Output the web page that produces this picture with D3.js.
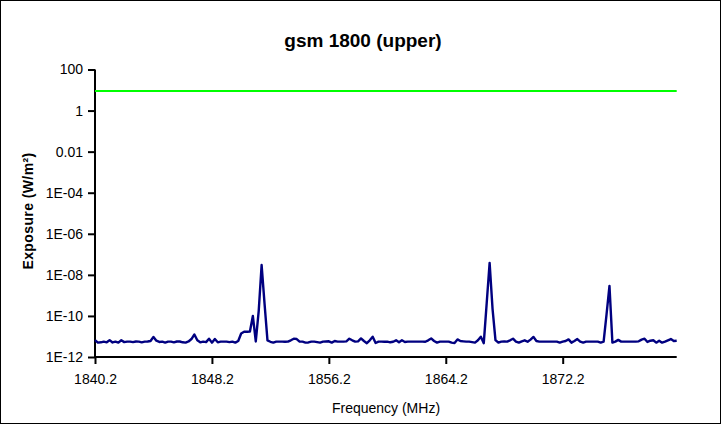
<!DOCTYPE html>
<html>
<head>
<meta charset="utf-8">
<script src="https://cdn.jsdelivr.net/npm/d3@7"></script>
<style>
  html, body { margin: 0; padding: 0; background: #fff; }
  svg { display: block; font-family: "Liberation Sans", Arial, sans-serif; }
</style>
</head>
<body>
<svg id="chart" width="722" height="425"></svg>
<script>
const title = "gsm 1800 (upper)";
const xTitle = "Frequency (MHz)";
const yTitle = "Exposure (W/m²)";

// Frequency sweep (MHz)
const frequencies = [
  1840.2,1840.4,1840.6,1840.8,1841.0,1841.2,1841.4,1841.6,1841.8,1842.0,
  1842.2,1842.4,1842.6,1842.8,1843.0,1843.2,1843.4,1843.6,1843.8,1844.0,
  1844.2,1844.4,1844.6,1844.8,1845.0,1845.2,1845.4,1845.6,1845.8,1846.0,
  1846.2,1846.4,1846.6,1846.8,1847.0,1847.2,1847.4,1847.6,1847.8,1848.0,
  1848.2,1848.4,1848.6,1848.8,1849.0,1849.2,1849.4,1849.6,1849.8,1850.0,
  1850.2,1850.4,1850.6,1850.8,1851.0,1851.2,1851.4,1851.6,1851.8,1852.0,
  1852.2,1852.4,1852.6,1852.8,1853.0,1853.2,1853.4,1853.6,1853.8,1854.0,
  1854.2,1854.4,1854.6,1854.8,1855.0,1855.2,1855.4,1855.6,1855.8,1856.0,
  1856.2,1856.4,1856.6,1856.8,1857.0,1857.2,1857.4,1857.6,1857.8,1858.0,
  1858.2,1858.4,1858.6,1858.8,1859.0,1859.2,1859.4,1859.6,1859.8,1860.0,
  1860.2,1860.4,1860.6,1860.8,1861.0,1861.2,1861.4,1861.6,1861.8,1862.0,
  1862.2,1862.4,1862.6,1862.8,1863.0,1863.2,1863.4,1863.6,1863.8,1864.0,
  1864.2,1864.4,1864.6,1864.8,1865.0,1865.2,1865.4,1865.6,1865.8,1866.0,
  1866.2,1866.4,1866.6,1866.8,1867.0,1867.2,1867.4,1867.6,1867.8,1868.0,
  1868.2,1868.4,1868.6,1868.8,1869.0,1869.2,1869.4,1869.6,1869.8,1870.0,
  1870.2,1870.4,1870.6,1870.8,1871.0,1871.2,1871.4,1871.6,1871.8,1872.0,
  1872.2,1872.4,1872.6,1872.8,1873.0,1873.2,1873.4,1873.6,1873.8,1874.0,
  1874.2,1874.4,1874.6,1874.8,1875.0,1875.2,1875.4,1875.6,1875.8,1876.0,
  1876.2,1876.4,1876.6,1876.8,1877.0,1877.2,1877.4,1877.6,1877.8,1878.0,
  1878.2,1878.4,1878.6,1878.8,1879.0,1879.2,1879.4,1879.6,1879.8,1880.0
];

// Measured exposure (W/m²)
const exposure = [
  6.7e-12,5.0e-12,5.2e-12,5.6e-12,5.2e-12,6.6e-12,5.1e-12,5.6e-12,5.0e-12,6.5e-12,
  5.3e-12,5.6e-12,5.6e-12,5.3e-12,5.7e-12,5.6e-12,5.2e-12,5.6e-12,5.7e-12,6.0e-12,
  9.5e-12,6.2e-12,5.4e-12,5.6e-12,5.0e-12,5.6e-12,5.6e-12,5.2e-12,5.7e-12,5.7e-12,
  5.2e-12,5.0e-12,5.7e-12,7.5e-12,1.25e-11,6.5e-12,5.2e-12,5.6e-12,5.3e-12,7.8e-12,
  5.0e-12,7.5e-12,5.2e-12,5.6e-12,5.6e-12,5.6e-12,5.3e-12,5.6e-12,5.0e-12,6.0e-12,
  1.4e-11,1.7e-11,1.7e-11,1.75e-11,1.0e-10,5.7e-12,1.7e-10,3.0e-8,4.0e-10,6.5e-12,
  5.5e-12,5.0e-12,5.6e-12,5.6e-12,5.6e-12,5.5e-12,5.6e-12,6.5e-12,7.8e-12,7.5e-12,
  5.6e-12,5.6e-12,5.0e-12,5.1e-12,5.6e-12,5.6e-12,5.3e-12,5.0e-12,5.6e-12,5.7e-12,
  5.8e-12,5.0e-12,6.0e-12,5.6e-12,5.6e-12,5.6e-12,5.8e-12,7.8e-12,6.5e-12,5.6e-12,
  5.8e-12,8.0e-12,6.0e-12,4.7e-12,6.5e-12,9.7e-12,4.8e-12,5.6e-12,5.6e-12,5.5e-12,
  5.6e-12,5.2e-12,5.5e-12,6.5e-12,5.2e-12,6.5e-12,5.4e-12,5.6e-12,5.6e-12,5.6e-12,
  5.6e-12,5.6e-12,5.6e-12,5.5e-12,6.5e-12,8.0e-12,6.0e-12,5.0e-12,5.6e-12,5.6e-12,
  5.6e-12,5.6e-12,5.0e-12,4.8e-12,7.2e-12,6.0e-12,5.8e-12,5.6e-12,5.6e-12,5.3e-12,
  5.0e-12,6.5e-12,9.7e-12,4.7e-12,4.2e-10,3.8e-8,2.2e-10,6.7e-12,5.0e-12,5.6e-12,
  5.7e-12,5.6e-12,6.5e-12,7.8e-12,5.6e-12,5.0e-12,5.8e-12,6.5e-12,5.5e-12,7.0e-12,
  9.5e-12,6.0e-12,5.6e-12,5.6e-12,5.6e-12,5.6e-12,5.6e-12,5.6e-12,5.6e-12,5.0e-12,
  5.6e-12,6.0e-12,7.2e-12,5.0e-12,6.0e-12,7.5e-12,5.6e-12,5.0e-12,5.6e-12,5.6e-12,
  5.6e-12,5.6e-12,5.6e-12,5.0e-12,5.6e-12,1.2e-10,2.9e-9,5.0e-12,5.6e-12,6.8e-12,
  5.6e-12,5.6e-12,5.6e-12,5.6e-12,5.6e-12,5.6e-12,5.8e-12,7.0e-12,7.8e-12,5.4e-12,
  6.2e-12,6.5e-12,5.0e-12,6.2e-12,5.0e-12,5.6e-12,6.5e-12,7.5e-12,6.0e-12,6.2e-12
];

// Reference level (W/m²)
const limitValue = [9, 9];
const limitFreqs = [1840.2, 1880.0];

const xTickValues = [1840.2, 1848.2, 1856.2, 1864.2, 1872.2];
const xTickLabels = ["1840.2", "1848.2", "1856.2", "1864.2", "1872.2"];
const yTickValues = [1e-12, 1e-10, 1e-8, 1e-6, 1e-4, 1e-2, 1, 100];
const yTickLabels = ["1E-12", "1E-10", "1E-08", "1E-06", "1E-04", "0.01", "1", "100"];

const svg = d3.select("#chart");
const W = 722, H = 425;
const plotLeft = 95, plotRight = 676.7, plotTop = 69.5, plotBottom = 357;

svg.append("rect").attr("x", 0.5).attr("y", 0.5).attr("width", W - 2).attr("height", H - 2)
  .attr("fill", "#fff").attr("stroke", "#000").attr("stroke-width", 1);

const x = d3.scaleLinear().domain([frequencies[0], frequencies[frequencies.length - 1]]).range([plotLeft, plotRight]);
const y = d3.scaleLog().domain([1e-12, 100]).range([plotBottom, plotTop]);

// Y axis
const yAxis = d3.axisLeft(y).tickValues(yTickValues)
  .tickFormat((d, i) => yTickLabels[i]).tickSizeOuter(0).tickSize(7).tickPadding(5);
const gy = svg.append("g").attr("transform", `translate(${plotLeft},0)`).call(yAxis);
gy.select(".domain").remove();
gy.append("line").attr("x1", 0).attr("x2", 0).attr("y1", y(100)).attr("y2", y(1e-12))
  .attr("stroke", "#000").attr("stroke-width", 2);
gy.selectAll(".tick line").attr("stroke", "#000").attr("stroke-width", 2);
gy.selectAll(".tick text").attr("font-size", 14).attr("fill", "#000")
  .attr("font-family", "Liberation Sans, Arial, sans-serif");

// X axis
const xAxis = d3.axisBottom(x).tickValues(xTickValues)
  .tickFormat((d, i) => xTickLabels[i]).tickSizeOuter(0).tickSize(7).tickPadding(10);
const gx = svg.append("g").attr("transform", `translate(0,${plotBottom})`).call(xAxis);
gx.select(".domain").remove();
gx.append("line").attr("x1", x.range()[0]).attr("x2", x.range()[1]).attr("y1", 0).attr("y2", 0)
  .attr("stroke", "#000").attr("stroke-width", 2);
gx.selectAll(".tick line").attr("stroke", "#000").attr("stroke-width", 2);
gx.selectAll(".tick text").attr("font-size", 14).attr("fill", "#000")
  .attr("font-family", "Liberation Sans, Arial, sans-serif");

// Reference limit line
svg.append("path")
  .datum(limitFreqs.map((f, i) => [f, limitValue[i]]))
  .attr("fill", "none").attr("stroke", "#00ff00").attr("stroke-width", 2.2)
  .attr("d", d3.line().x(d => x(d[0])).y(d => y(d[1])));

// Measured series
svg.append("path")
  .datum(frequencies.map((f, i) => [f, exposure[i]]))
  .attr("fill", "none").attr("stroke", "#000080").attr("stroke-width", 2.4)
  .attr("stroke-linejoin", "round")
  .attr("d", d3.line().x(d => x(d[0])).y(d => y(d[1])));

// Titles
svg.append("text").attr("x", 363).attr("y", 47).attr("text-anchor", "middle")
  .attr("font-size", 19).attr("font-weight", "bold").attr("fill", "#000").text(title);

svg.append("text").attr("x", 386).attr("y", 413).attr("text-anchor", "middle")
  .attr("font-size", 14).attr("fill", "#000").text(xTitle);

svg.append("text").attr("transform", "translate(33,211) rotate(-90)")
  .attr("text-anchor", "middle").attr("font-size", 14).attr("font-weight", "bold")
  .attr("letter-spacing", 0.4)
  .attr("fill", "#000").text(yTitle);
</script>
</body>
</html>
